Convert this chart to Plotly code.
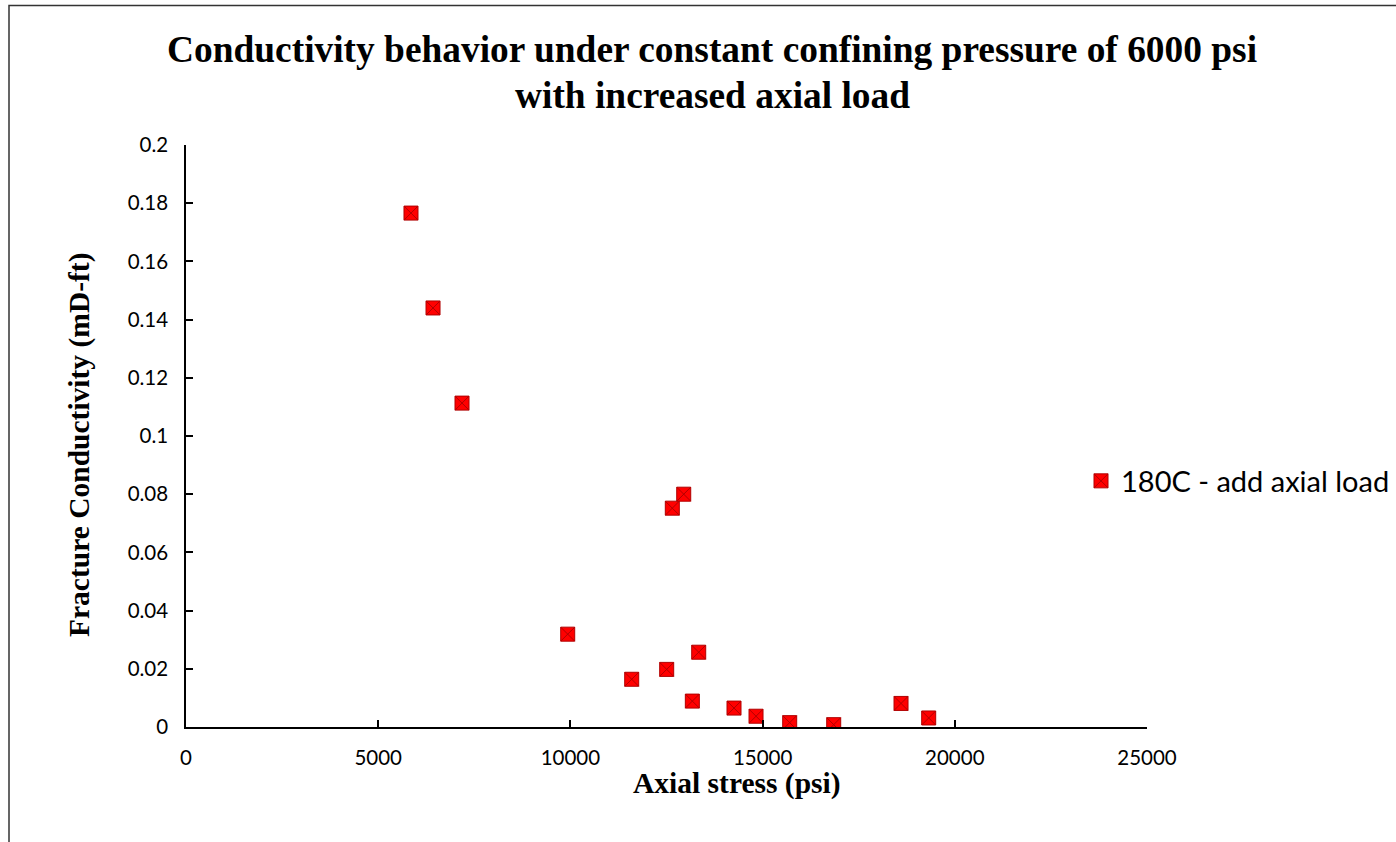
import plotly.graph_objects as go

axial_stress = [5853, 6426, 7180, 12651, 12948, 9930, 11595, 12505, 13338, 13172,
                14256, 14829, 15705, 16850, 18601, 19321]
conductivity = [0.1766, 0.1440, 0.1113, 0.0752, 0.0800, 0.0319, 0.0164, 0.0198,
                0.0257, 0.0089, 0.0065, 0.0037, 0.0015, 0.0008, 0.0081, 0.0031]
series_name = "180C - add axial load"
x_ticks = [0, 5000, 10000, 15000, 20000, 25000]
y_ticks = [0, 0.02, 0.04, 0.06, 0.08, 0.1, 0.12, 0.14, 0.16, 0.18, 0.2]
y_tick_text = ["0", "0.02", "0.04", "0.06", "0.08", "0.1", "0.12", "0.14", "0.16", "0.18", "0.2"]

fig = go.Figure()
fig.add_trace(go.Scatter(
    x=axial_stress, y=conductivity, mode="markers", name=series_name,
    marker=dict(symbol="square-x", size=14, color="#ff0000",
                line=dict(color="#b00000", width=1)),
    showlegend=True,
))

L, R, T, B = 186, 249, 145, 115
W, H = 1396, 842
pw = W - L - R
ph = H - T - B

def px_x(px):
    return (px - L) / pw

def px_y(py):
    return (H - B - py) / ph

tick_font = dict(family="Lato, Carlito, sans-serif", size=20.5, color="black")
serif = "Liberation Serif, Times New Roman, serif"

fig.update_layout(
    width=W, height=H,
    margin=dict(l=L, r=R, t=T, b=B, autoexpand=False),
    paper_bgcolor="white", plot_bgcolor="white",
    showlegend=True,
    legend=dict(x=px_x(1081), y=px_y(481), xanchor="left", yanchor="middle",
                font=dict(family="Lato, Carlito, sans-serif", size=29, color="black"),
                bgcolor="rgba(0,0,0,0)"),
    xaxis=dict(range=[0, 25000], tickvals=x_ticks, ticktext=[str(v) for v in x_ticks],
               showgrid=False, zeroline=False, showline=True, linecolor="black",
               linewidth=1.5, ticks="inside", ticklen=7, tickwidth=1.5, tickcolor="black",
               tickfont=tick_font, ticklabelstandoff=12),
    yaxis=dict(range=[0, 0.2], tickvals=y_ticks, ticktext=y_tick_text,
               showgrid=False, zeroline=False, showline=True, linecolor="black",
               linewidth=1.5, ticks="inside", ticklen=7, tickwidth=1.5, tickcolor="black",
               tickfont=tick_font, ticklabelstandoff=12),
    annotations=[
        dict(text="<b>Conductivity behavior under constant confining pressure of 6000 psi</b>",
             x=px_x(712), y=px_y(50), xref="paper", yref="paper", showarrow=False,
             xanchor="center", yanchor="middle",
             font=dict(family=serif, size=37.4, color="black")),
        dict(text="<b>with increased axial load</b>",
             x=px_x(712), y=px_y(95), xref="paper", yref="paper", showarrow=False,
             xanchor="center", yanchor="middle",
             font=dict(family=serif, size=37.4, color="black")),
        dict(text="<b>Axial stress (psi)</b>",
             x=px_x(737), y=px_y(783), xref="paper", yref="paper", showarrow=False,
             xanchor="center", yanchor="middle",
             font=dict(family=serif, size=29.5, color="black")),
        dict(text="<b>Fracture Conductivity (mD-ft)</b>", textangle=-90,
             x=px_x(80), y=px_y(445), xref="paper", yref="paper", showarrow=False,
             xanchor="center", yanchor="middle",
             font=dict(family=serif, size=29.5, color="black")),
    ],
    shapes=[
        dict(type="rect", xref="paper", yref="paper",
             x0=px_x(9), x1=px_x(1420), y0=px_y(870), y1=px_y(5.5),
             line=dict(color="#333333", width=1.5), fillcolor="rgba(0,0,0,0)", layer="below"),
    ],
)

fig.write_html("out.html")
